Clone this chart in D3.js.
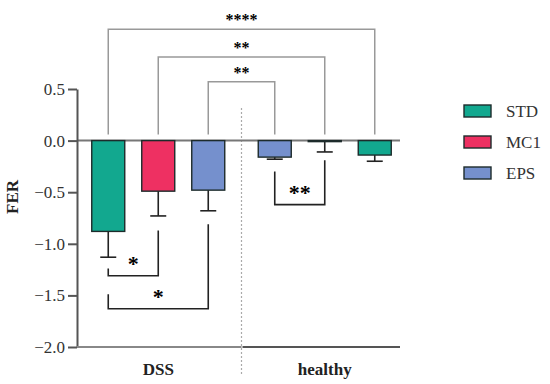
<!DOCTYPE html>
<html>
<head>
<meta charset="utf-8">
<script src="https://cdn.jsdelivr.net/npm/d3@7"></script>
<style>
  body { margin: 0; background: #fff; }
  svg text { font-family: "Liberation Serif", "Times New Roman", "DejaVu Serif", serif !important; }
</style>
</head>
<body>
<svg width="550" height="384"></svg>
<script>
// data
var groups = ["DSS", "healthy"];
var seriesNames = ["STD", "MC1", "EPS"];
var seriesColors = ["#12a88f", "#ee3062", "#7590cd"];
var dssMeans = [-0.88, -0.49, -0.48];      // STD, MC1, EPS
var dssErrors = [0.25, 0.24, 0.20];
var healthyMeans = [-0.14, -0.01, -0.16];  // STD, MC1, EPS
var healthyErrors = [0.06, 0.10, 0.02];
// in the healthy group the order is mirrored: EPS, MC1, STD
var healthyOrder = ["EPS", "MC1", "STD"];
var yTicks = [0.5, 0.0, -0.5, -1.0, -1.5, -2.0];

// brackets above: pairs of (group, series), level, label
var topBrackets = [
    {a: ["DSS", "STD"], b: ["healthy", "STD"], y: 1.08, label: "****"},
    {a: ["DSS", "MC1"], b: ["healthy", "MC1"], y: 0.81, label: "**"},
    {a: ["DSS", "EPS"], b: ["healthy", "EPS"], y: 0.57, label: "**"}
];
// brackets below
var bottomBrackets = [
    {a: ["DSS", "STD"], b: ["DSS", "MC1"], y: -1.31, ya: -1.24, yb: -0.87, label: "*"},
    {a: ["DSS", "STD"], b: ["DSS", "EPS"], y: -1.63, ya: -1.49, yb: -0.81, label: "*"},
    {a: ["healthy", "EPS"], b: ["healthy", "MC1"], y: -0.62, ya: -0.30, yb: -0.19, label: "**"}
];

var FONT = "'Liberation Serif', 'Times New Roman', 'DejaVu Serif', serif";
var svg = d3.select("svg").attr("font-family", FONT);
var margin = {top: 89, left: 77, bottom: 37};
var height = 384 - margin.bottom;

var x = d3.scaleBand().domain(groups).range([75, 408]);
var sub = d3.scalePoint().domain([0, 1, 2]).range([-50, 50]);
var y = d3.scaleLinear().domain([-2, 0.5]).range([height, margin.top]);

var bars = [];
seriesNames.forEach(function(s, i) {
    bars.push({group: "DSS", name: s, pos: i, mean: dssMeans[i], err: dssErrors[i], color: seriesColors[i]});
});
seriesNames.forEach(function(s, i) {
    bars.push({group: "healthy", name: s, pos: healthyOrder.indexOf(s), mean: healthyMeans[i], err: healthyErrors[i], color: seriesColors[i]});
});

function cx(group, name) {
    var b = bars.filter(function(d) { return d.group == group && d.name == name; })[0];
    return x(group) + x.bandwidth() / 2 + sub(b.pos);
}
var barW = 33;

// dashed divider between groups
svg.append("line")
    .attr("x1", x("healthy")).attr("x2", x("healthy"))
    .attr("y1", 108).attr("y2", 376)
    .attr("stroke", "#aaa").attr("stroke-width", 1.2)
    .attr("stroke-dasharray", "2,2");

// top brackets
topBrackets.forEach(function(t) {
    var x1 = cx(t.a[0], t.a[1]), x2 = cx(t.b[0], t.b[1]);
    svg.append("path")
        .attr("d", "M" + x1 + "," + (y(0) - 6) + "V" + y(t.y) + "H" + x2 + "V" + (y(0) - 6))
        .attr("fill", "none").attr("stroke", "#999").attr("stroke-width", 1.5);
    svg.append("text")
        .attr("x", (x1 + x2) / 2).attr("y", y(t.y) - 4)
        .attr("text-anchor", "middle")
        .style("font-size", "16px").style("font-weight", "bold")
        .text(t.label);
});

// zero line
svg.append("line")
    .attr("x1", margin.left).attr("x2", 400)
    .attr("y1", y(0)).attr("y2", y(0))
    .attr("stroke", "#777").attr("stroke-width", 2);

// error bars (downward only)
var eb = svg.selectAll(".err").data(bars).enter().append("g");
eb.append("line")
    .attr("x1", function(d) { return cx(d.group, d.name); })
    .attr("x2", function(d) { return cx(d.group, d.name); })
    .attr("y1", function(d) { return y(d.mean); })
    .attr("y2", function(d) { return y(d.mean - d.err); })
    .attr("stroke", "#222").attr("stroke-width", 1.6);
eb.append("line")
    .attr("x1", function(d) { return cx(d.group, d.name) - 8; })
    .attr("x2", function(d) { return cx(d.group, d.name) + 8; })
    .attr("y1", function(d) { return y(d.mean - d.err); })
    .attr("y2", function(d) { return y(d.mean - d.err); })
    .attr("stroke", "#222").attr("stroke-width", 1.6);

// bars
svg.selectAll(".bar").data(bars).enter().append("rect")
    .attr("x", function(d) { return cx(d.group, d.name) - barW / 2; })
    .attr("width", barW)
    .attr("y", y(0))
    .attr("height", function(d) { return y(d.mean) - y(0); })
    .attr("fill", function(d) { return d.color; })
    .attr("stroke", "#1d2b2b").attr("stroke-width", 1.4);

// bottom brackets
bottomBrackets.forEach(function(t) {
    var x1 = cx(t.a[0], t.a[1]), x2 = cx(t.b[0], t.b[1]);
    svg.append("path")
        .attr("d", "M" + x1 + "," + y(t.ya) + "V" + y(t.y) + "H" + x2 + "V" + y(t.yb))
        .attr("fill", "none").attr("stroke", "#222").attr("stroke-width", 1.6);
    svg.append("text")
        .attr("x", (x1 + x2) / 2).attr("y", y(t.y) - 5)
        .attr("text-anchor", "middle")
        .style("font-size", "22px").style("font-weight", "bold")
        .text(t.label);
});

// y axis
var yAxis = svg.append("g")
    .attr("transform", "translate(" + margin.left + ",0)")
    .call(d3.axisLeft(y).tickValues(yTicks).tickSize(9).tickSizeOuter(0)
        .tickFormat(function(d) { return d3.format(".1f")(d).replace("-", "\u2212"); }));
yAxis.attr("font-family", FONT);
yAxis.select(".domain").attr("stroke", "#555").attr("stroke-width", 2);
yAxis.selectAll(".tick line").attr("stroke", "#555").attr("stroke-width", 2);
yAxis.selectAll(".tick text")
    .attr("x", -12)
    .style("font-size", "17px")
    .attr("fill", "#333");

// x axis line at bottom
svg.append("line")
    .attr("x1", margin.left).attr("x2", x("healthy"))
    .attr("y1", height).attr("y2", height)
    .attr("stroke", "#888").attr("stroke-width", 2);
svg.append("line")
    .attr("x1", x("healthy") + 1).attr("x2", 400)
    .attr("y1", height).attr("y2", height)
    .attr("stroke", "#555").attr("stroke-width", 2);

svg.selectAll(".glabel").data(groups).enter().append("text")
    .attr("x", function(d) { return x(d) + x.bandwidth() / 2; })
    .attr("y", 375)
    .attr("text-anchor", "middle")
    .style("font-size", "17px").style("font-weight", "bold")
    .attr("fill", "#222")
    .text(function(d) { return d; });

// y label
svg.append("text")
    .attr("transform", "translate(18,197) rotate(-90)")
    .attr("text-anchor", "middle")
    .style("font-size", "17px").style("font-weight", "bold")
    .attr("fill", "#222")
    .text("FER");

// legend
var legend = svg.selectAll(".leg").data(seriesNames).enter().append("g")
    .attr("transform", function(d, i) { return "translate(464," + (105 + i * 31) + ")"; });
legend.append("rect")
    .attr("width", 27).attr("height", 12)
    .attr("fill", function(d, i) { return seriesColors[i]; })
    .attr("stroke", "#1d2b2b").attr("stroke-width", 1.4);
legend.append("text")
    .attr("x", 42).attr("y", 12)
    .style("font-size", "17px")
    .attr("fill", "#333")
    .text(function(d) { return d; });
</script>
</body>
</html>
